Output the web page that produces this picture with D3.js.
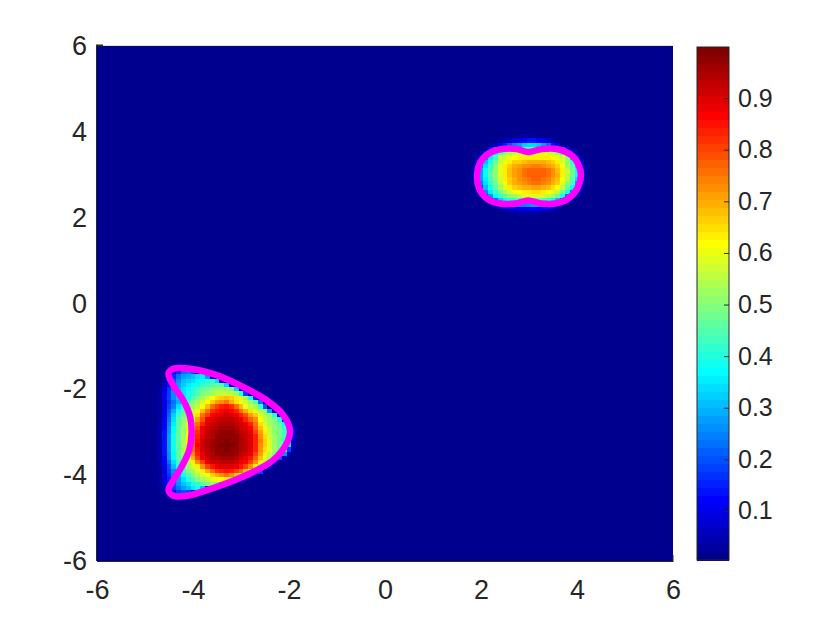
<!DOCTYPE html>
<html>
<head>
<meta charset="utf-8">
<script src="https://cdn.jsdelivr.net/npm/d3@7/dist/d3.min.js"></script>
<style>
html,body{margin:0;padding:0;background:#fff}
svg{display:block}
text{font-family:"Liberation Sans",Arial,sans-serif;fill:#262626}
</style>
</head>
<body>
<svg id="chart" width="840" height="630"></svg>
<script>
const axisTicks = [-6,-4,-2,0,2,4,6];
const barTicks = [0.1,0.2,0.3,0.4,0.5,0.6,0.7,0.8,0.9];
const barRange = [0.005,0.999];
const jetStops = [0,7,23,39,55,63];
const jetColors = ["#00008f","#0000ff","#00ffff","#ffff00","#ff0000","#800000"];

// left blob: cell centres x from -4.9 step 0.1; y listed per row (values in percent)
const leftX0 = -4.9;
const leftY = [-1.4,-1.5,-1.6,-1.7,-1.8,-1.9,-2.0,-2.1,-2.2,-2.3,-2.4,-2.5,-2.6,-2.7,-2.8,-2.9,-3.0,-3.1,-3.2,-3.3,-3.4,-3.5,-3.6,-3.7,-3.8,-3.9,-4.0,-4.1,-4.2,-4.3,-4.4,-4.5,-4.6];
const leftRows = [
[0,0,0,0,0,1,2,2,1],
[0,0,0,0,1,5,9,10,6,2],
[0,0,0,0,5,12,17,22,24,20,8,1],
[0,0,0,2,9,17,23,27,29,31,33,35,28,10,1],
[0,0,0,4,12,20,26,30,32,34,36,38,40,41,34,14,2],
[0,0,1,6,14,22,28,32,35,37,39,41,43,45,46,44,32,12,2],
[0,0,2,8,16,24,30,34,37,40,43,46,48,50,51,52,52,48,32,10,2],
[0,0,3,10,18,26,31,35,38,41,45,49,51,53,55,56,56,56,52,42,18,4],
[0,0,3,10,18,26,31,35,39,45,49,53,57,61,65,67,68,66,63,59,54,38,15,3],
[0,0,3,9,17,22,29,37,44,49,53,57,62,67,71,73,75,70,65,60,57,52,44,22,5],
[0,0,3,9,18,24,34,42,47,52,56,61,68,76,80,83,85,82,76,68,60,56,52,42,20,4],
[0,0,3,9,19,29,39,45,51,55,60,68,76,82,85,87,89,87,84,76,70,65,58,54,49,28,7,1],
[0,0,3,10,21,32,41,47,53,58,65,75,81,87,88,90,91,90,88,84,79,71,66,58,54,50,40,11,1],
[0,0,3,10,23,34,44,50,55,62,71,79,88,90,92,93,93,93,91,88,84,78,72,62,56,52,49,40,13,2],
[0,0,3,11,24,35,45,52,57,65,76,84,90,92,93,95,95,95,93,91,88,83,75,65,59,53,50,46,36,12,2],
[0,0,4,12,25,36,46,53,59,68,79,88,91,93,95,96,96,96,94,92,90,86,78,68,60,55,51,47,42,26,6],
[0,0,4,13,26,37,46,53,62,73,82,89,93,95,96,97,97,97,96,93,92,88,81,71,63,56,51,47,43,36,8,1],
[0,0,4,13,27,38,46,53,62,75,84,90,93,95,97,98,98,98,97,95,93,90,84,73,65,57,52,47,43,36,7,1],
[0,0,4,13,27,38,46,54,62,75,85,91,94,96,97,98,99,98,97,95,93,90,84,74,66,58,53,48,43,36,6,1],
[0,0,4,13,27,38,46,54,62,75,87,91,94,96,98,99,100,99,97,95,93,90,83,73,66,59,53,48,42,35,6,1],
[0,0,4,13,27,38,46,54,62,75,85,91,93,96,97,98,99,98,97,95,93,90,83,73,65,58,52,46,40,18,3],
[0,0,4,13,26,37,46,52,61,73,84,89,93,95,97,97,98,97,96,93,91,88,81,71,63,56,50,44,26,6,1],
[0,0,4,12,25,36,45,51,60,70,81,88,92,94,95,96,96,96,94,92,89,85,78,68,60,53,45,20,4],
[0,0,3,11,22,34,43,50,56,63,73,81,88,91,92,93,93,93,91,89,87,81,73,63,55,32,8,1],
[0,0,3,10,19,31,40,47,53,58,64,73,81,85,88,90,90,90,88,85,80,73,64,48,24,5],
[0,0,3,9,18,25,35,43,49,53,58,64,70,76,82,84,85,84,81,76,68,58,42,18,3],
[0,0,3,9,17,24,30,38,45,50,54,58,62,67,70,73,75,72,66,56,40,14,2],
[0,0,2,8,15,22,28,33,40,45,49,52,55,58,60,62,63,50,24,5],
[0,0,2,7,13,20,26,30,34,38,42,45,48,50,46,28,10,2],
[0,0,0,5,11,18,23,27,31,35,38,30,12,2],
[0,0,0,3,8,14,18,20,18,10,3],
[0,0,0,1,3,6,8,6,3,1],
[0,0,0,0,0,1,2,1]
];

// right blob: cell centres x from 1.7 step 0.1
const rightX0 = 1.7;
const rightY = [3.9,3.8,3.7,3.6,3.5,3.4,3.3,3.2,3.1,3.0,2.9,2.8,2.7,2.6,2.5,2.4,2.3,2.2,2.1];
const rightRows = [
[0,0,0,0,0,0,0,0,0,0,1,2,2,2,2,1],
[0,0,0,0,0,0,1,2,4,6,8,10,12,13,13,12,10,7,4,2,1],
[0,0,0,0,1,2,5,10,15,20,24,28,32,34,34,32,28,22,14,8,3,1],
[0,0,0,1,3,10,20,30,36,40,43,45,46,46,47,47,46,44,40,33,22,10,3,1],
[0,0,1,3,12,26,37,44,49,52,55,57,59,60,60,59,59,57,55,50,42,28,12,3,1],
[0,0,2,9,24,35,43,55,58,60,62,63,64,64,64,64,64,63,62,60,57,50,30,12,2],
[0,1,4,18,31,39,47,56,60,64,66,67,68,69,69,69,69,68,66,64,59,51,41,24,7,1],
[0,1,8,24,34,42,50,58,63,67,69,71,72,73,74,74,73,71,69,66,61,53,45,32,12,2],
[0,2,11,27,36,44,51,58,64,68,71,73,75,77,78,78,77,75,72,68,63,55,47,36,16,3,1],
[0,2,12,28,36,44,52,58,64,68,71,73,75,77,78,78,77,75,72,69,63,55,48,38,18,4,1],
[0,2,11,27,35,43,51,57,63,67,70,72,74,76,77,77,76,74,71,68,62,54,46,34,14,3],
[0,1,8,24,34,41,49,55,62,66,69,71,73,74,75,75,74,72,70,66,60,51,43,28,9,2],
[0,0,4,18,31,39,46,52,58,63,66,68,70,70,71,71,70,68,65,61,55,46,36,18,5,1],
[0,0,2,9,24,35,42,48,53,57,60,62,64,64,65,65,64,62,59,55,48,38,22,8,2],
[0,0,1,3,12,26,36,43,47,50,53,56,58,58,58,58,57,55,52,47,38,22,9,2],
[0,0,0,1,3,10,22,32,37,40,42,43,44,44,46,46,44,42,38,30,18,8,2],
[0,0,0,0,1,3,7,12,18,22,24,24,24,26,28,28,26,22,15,8,3,1],
[0,0,0,0,0,0,1,3,5,7,9,10,10,10,12,12,10,8,5,3,1],
[0,0,0,0,0,0,0,0,1,1,2,2,2,2,2,2,1,1]
];

const leftContourX = [-4.41,-4.51,-4.41,-4.2,-4.06,-4.03,-4.08,-4.24,-4.41,-4.51,-4.41,-4.13,-3.71,-3.23,-2.74,-2.33,-2.05,-1.98,-2.12,-2.46,-2.95,-3.51,-4.06];
const leftContourY = [-1.52,-1.63,-1.91,-2.26,-2.64,-3.03,-3.42,-3.81,-4.12,-4.35,-4.48,-4.48,-4.35,-4.16,-3.92,-3.65,-3.26,-2.95,-2.6,-2.26,-1.95,-1.67,-1.52];
const rightContourX = [1.92,1.98,2.15,2.44,2.75,2.98,3.27,3.58,3.9,4.04,4.08,4.0,3.81,3.54,3.27,2.98,2.71,2.4,2.13,1.96];
const rightContourY = [3.02,3.28,3.49,3.6,3.6,3.53,3.6,3.6,3.44,3.21,2.98,2.67,2.44,2.33,2.33,2.4,2.33,2.33,2.44,2.68];

const ink = "#262626";
const svg = d3.select("#chart");
const x = d3.scaleLinear().domain([-6,6]).range([97,673]);
const y = d3.scaleLinear().domain([-6,6]).range([561,46]);
const jetScale = d3.scaleLinear().domain(jetStops).range(jetColors).interpolate(d3.interpolateRgb);
const jet = d3.range(64).map(i => jetScale(i));
const color = d3.scaleQuantize().domain([0,1]).range(jet);
const step = 0.1;

svg.append("rect").attr("x",97).attr("y",45).attr("width",576).attr("height",2).attr("fill","#e2e2e2");
svg.append("rect").attr("x",x(-6)).attr("y",y(6)).attr("width",x(6)-x(-6)).attr("height",y(-6)-y(6)).attr("fill",jet[0]);

function cells(x0, ys, rows){
  const out = [];
  rows.forEach((r,j)=>r.forEach((v,i)=>{ if(v>0) out.push({x:x0+i*step,y:ys[j],v:v/100}); }));
  return out;
}
const data = cells(leftX0,leftY,leftRows).concat(cells(rightX0,rightY,rightRows));
svg.append("g").attr("shape-rendering","crispEdges").selectAll("rect").data(data).join("rect")
  .attr("x",d=>x(d.x-step/2)).attr("y",d=>y(d.y+step/2))
  .attr("width",d=>x(d.x+step/2)-x(d.x-step/2)+0.5)
  .attr("height",d=>y(d.y-step/2)-y(d.y+step/2)+0.5)
  .attr("fill",d=>color(d.v));

const line = d3.line().x(d=>x(d[0])).y(d=>y(d[1])).curve(d3.curveCatmullRomClosed.alpha(0.5));
[[leftContourX,leftContourY],[rightContourX,rightContourY]].forEach(([cx,cy])=>{
  svg.append("path").attr("d",line(d3.zip(cx,cy))).attr("fill","none")
    .attr("stroke","#ff00ff").attr("stroke-width",6.5).attr("stroke-linejoin","round");
});

const fontFam = '"Liberation Sans",Arial,sans-serif';
const gx = svg.append("g").attr("transform","translate(0,561)").call(d3.axisBottom(x).tickValues(axisTicks).tickSize(0).tickPadding(19).tickFormat(d=>String(d)));
const gy = svg.append("g").attr("transform","translate(97,0)").call(d3.axisLeft(y).tickValues(axisTicks).tickSize(0).tickPadding(10).tickFormat(d=>String(d)));
[gx,gy].forEach(g=>{
  g.select(".domain").attr("stroke",ink).attr("stroke-width",1);
  g.selectAll("text").attr("font-size",27).attr("fill",ink).style("font-family",fontFam);
});
gx.selectAll("text").attr("dy","0.71em");
gx.select(".domain").attr("d","M97,0.5H673.5");
gy.select(".domain").attr("d","M-0.5,46V561");
svg.append("line").attr("x1",96).attr("x2",103).attr("y1",45.5).attr("y2",45.5).attr("stroke",ink).attr("stroke-width",2);
svg.append("line").attr("x1",673).attr("x2",673).attr("y1",555).attr("y2",561).attr("stroke",ink).attr("stroke-width",1);

const bx0=697,bx1=729,by0=560,by1=47;
const bar = d3.scaleLinear().domain(barRange).range([by0,by1]);
const bandH=(by0-by1)/64;
svg.append("g").attr("shape-rendering","crispEdges").selectAll("rect").data(jet).join("rect")
  .attr("x",bx0).attr("width",bx1-bx0)
  .attr("y",(c,i)=>by0-(i+1)*bandH).attr("height",bandH+0.5)
  .attr("fill",c=>c);
svg.append("rect").attr("x",bx0).attr("y",by1).attr("width",bx1-bx0).attr("height",by0-by1)
  .attr("fill","none").attr("stroke",ink).attr("stroke-width",1);
const gb = svg.append("g").attr("transform",`translate(${bx1},0)`)
  .call(d3.axisRight(bar).tickValues(barTicks).tickSize(-5).tickPadding(9).tickFormat(d3.format(".1f")));
gb.select(".domain").remove();
gb.selectAll("line").attr("stroke",ink);
gb.selectAll("text").attr("font-size",25).attr("fill",ink).style("font-family",fontFam);
</script>
</body>
</html>
